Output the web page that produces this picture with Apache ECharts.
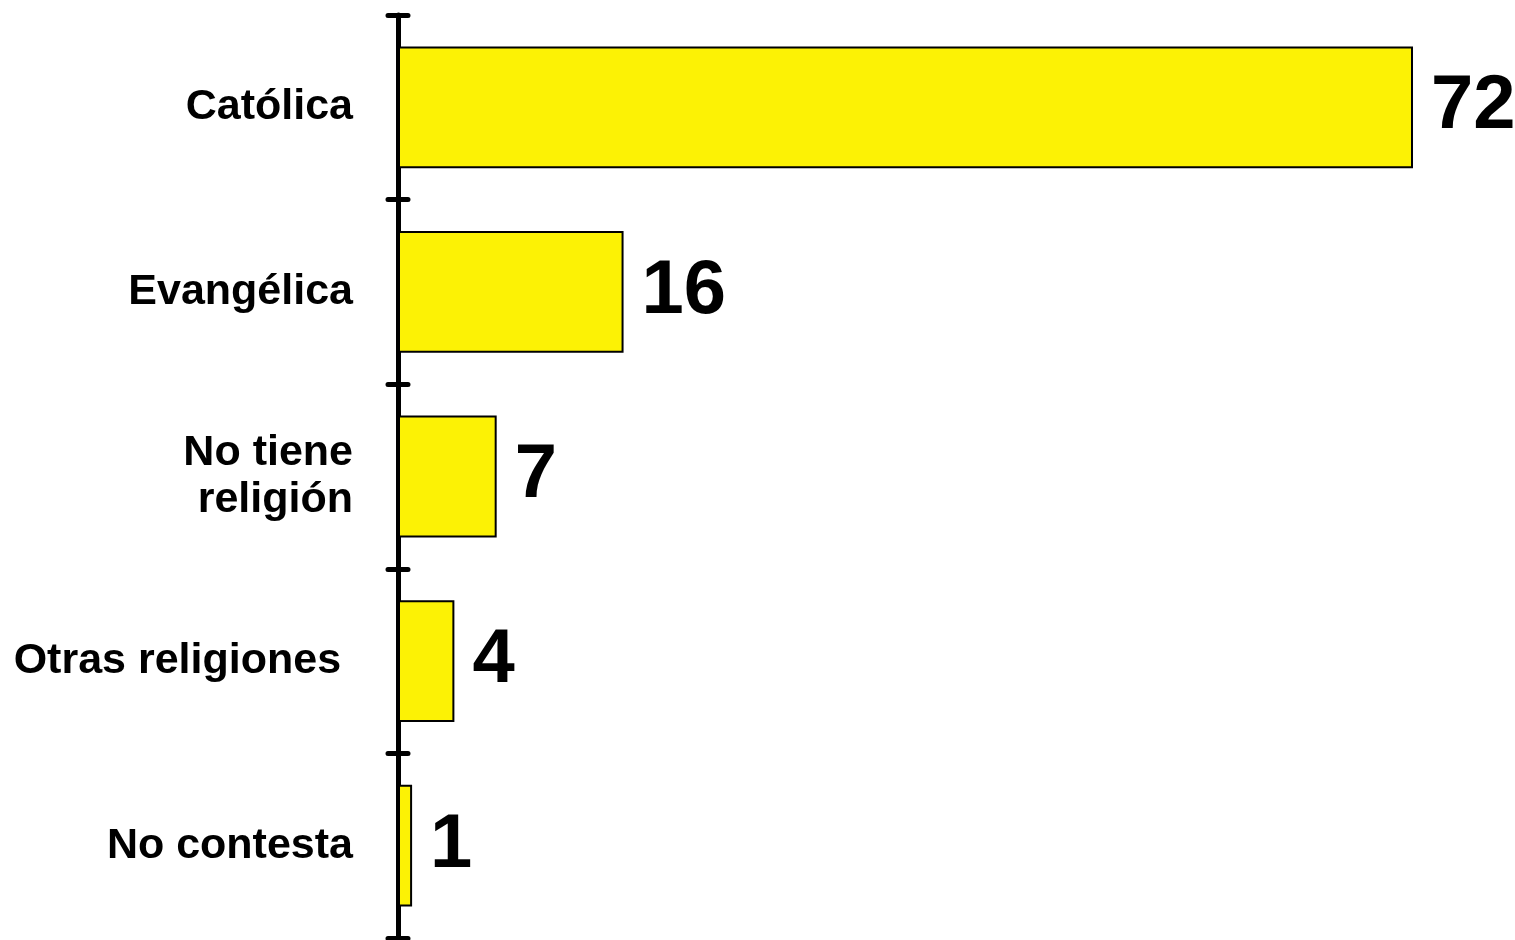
<!DOCTYPE html>
<html>
<head>
<meta charset="utf-8">
<script src="https://cdn.jsdelivr.net/npm/echarts@6/dist/echarts.min.js"></script>
<style>
html,body{margin:0;padding:0;background:#fff;}
#chart{width:1515px;height:940px;}
</style>
</head>
<body>
<div id="chart"></div>
<script>
const categories = ['Católica', 'Evangélica', 'No tiene\nreligión', 'Otras religiones ', 'No contesta'];
const values = [72, 16, 7, 4, 1];

const chart = echarts.init(document.getElementById('chart'));
const FONT = '"Liberation Sans", Arial, sans-serif';
chart.setOption({
  animation: false,
  backgroundColor: '#ffffff',
  grid: { left: 398, right: 102, top: 15, bottom: 2, containLabel: false },
  xAxis: { type: 'value', min: 0, max: 72, show: false },
  yAxis: [
    {
      type: 'category', data: categories, inverse: true,
      axisLine: { show: true, lineStyle: { color: '#000', width: 5 } },
      axisTick: { show: true, inside: false, length: 10, lineStyle: { color: '#000', width: 5, cap: 'round' } },
      axisLabel: { margin: 45, color: '#000', fontFamily: FONT, fontWeight: 'bold', fontSize: 43, lineHeight: 47, align: 'right' }
    },
    {
      type: 'category', data: categories, inverse: true, position: 'left', offset: 0,
      axisLine: { show: false },
      axisTick: { show: true, inside: true, length: 10, lineStyle: { color: '#000', width: 5, cap: 'round' } },
      axisLabel: { show: false }
    }
  ],
  series: [{
    type: 'bar', yAxisIndex: 0, data: values,
    barCategoryGap: '34%',
    itemStyle: { color: '#FCF205', borderColor: '#000', borderWidth: 2 },
    label: { show: true, position: 'right', distance: 18, color: '#000', fontFamily: FONT, fontWeight: 'bold', fontSize: 76 }
  }]
});
</script>
</body>
</html>
